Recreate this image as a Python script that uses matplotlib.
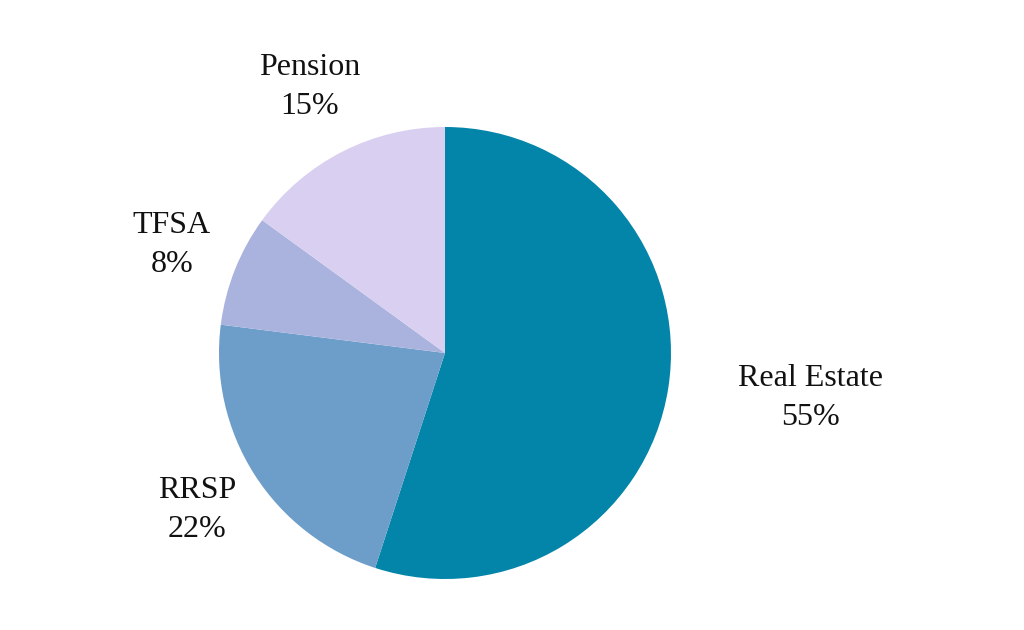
import numpy as np
import matplotlib
matplotlib.use("Agg")
import matplotlib.pyplot as plt

labels = ["Real Estate", "RRSP", "TFSA", "Pension"]
shares = [55, 22, 8, 15]
colors = ["#0384a9", "#6d9ec9", "#aab3de", "#d9cff0"]
label_dist = [1.63, 1.30, 1.30, 1.32]

plt.rcParams["font.family"] = ["Liberation Serif", "DejaVu Serif"]

fig = plt.figure(figsize=(10.24, 6.3), dpi=100)
ax = fig.add_axes([0, 0, 1, 1])

cx, cy, r = 445, 630 - 353, 226
wedges, _ = ax.pie(shares, colors=colors, startangle=90, counterclock=False,
                   center=(cx, cy), radius=r, frame=True,
                   wedgeprops=dict(linewidth=0))
ax.set_xlim(0, 1024)
ax.set_ylim(0, 630)
ax.set_aspect("equal")
ax.axis("off")

for i, (w, name, val, d) in enumerate(zip(wedges, labels, shares, label_dist)):
    mid = (w.theta1 + w.theta2) / 2
    if i == 0:
        mid += 2  # real estate label sits a bit higher
    ang = np.deg2rad(mid)
    x = cx + d * r * np.cos(ang)
    y = cy + d * r * np.sin(ang)
    ax.text(x, y, f"{name}\n{val}%", ha="center", va="center",
            fontsize=23, color="#111111", linespacing=1.45)

fig.savefig("out.png", dpi=100)
